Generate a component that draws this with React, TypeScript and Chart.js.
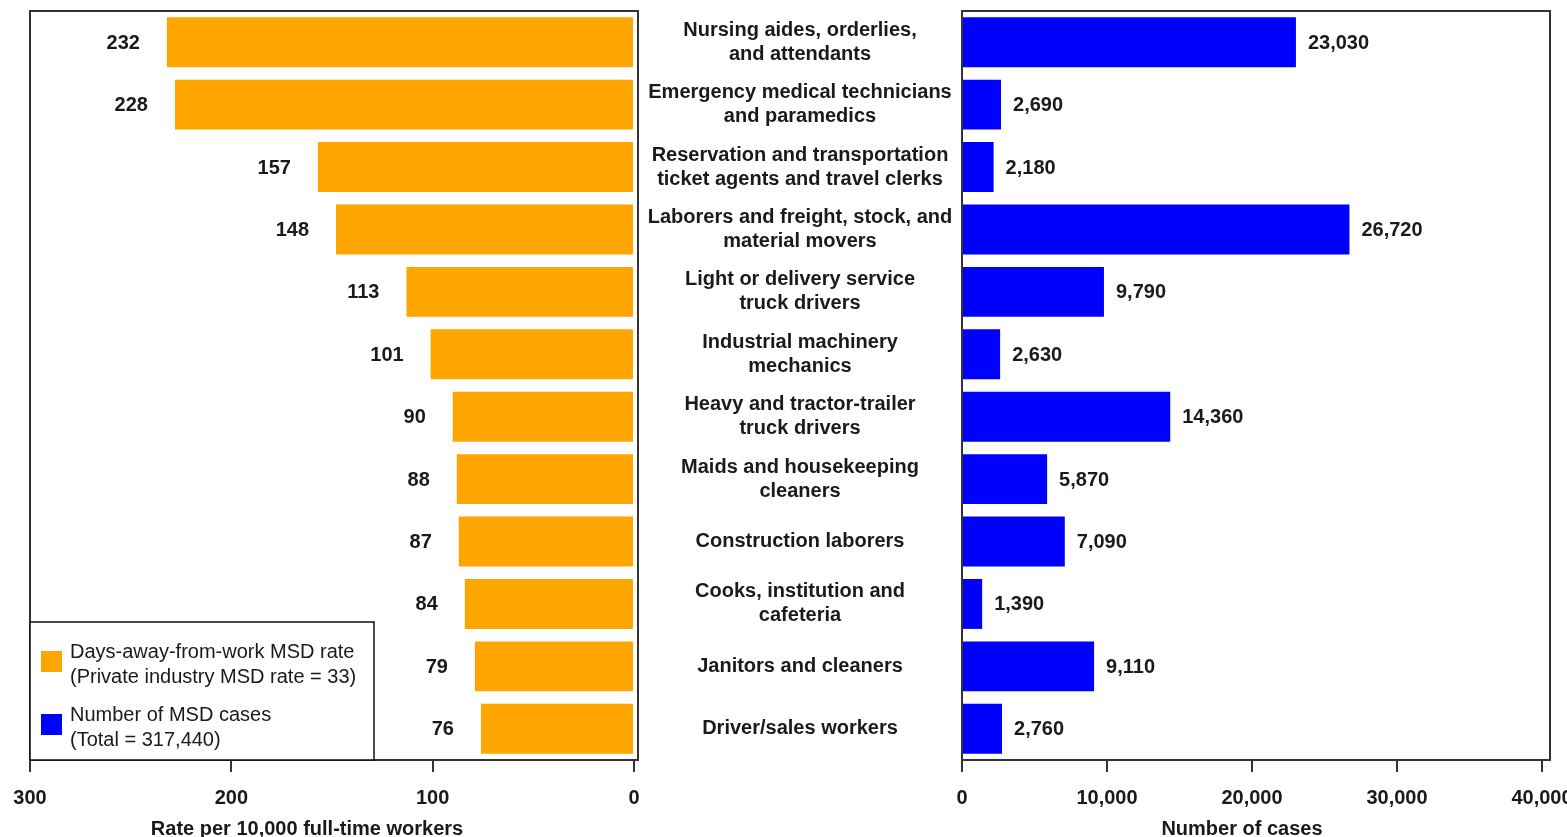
import { useEffect, useRef } from "react";
import { Chart, registerables } from "chart.js";

Chart.register(...registerables);

const categories: string[][] = [
  ["Nursing aides, orderlies,", "and attendants"],
  ["Emergency medical technicians", "and paramedics"],
  ["Reservation and transportation", "ticket agents and travel clerks"],
  ["Laborers and freight, stock, and", "material movers"],
  ["Light or delivery service", "truck drivers"],
  ["Industrial machinery", "mechanics"],
  ["Heavy and tractor-trailer", "truck drivers"],
  ["Maids and housekeeping", "cleaners"],
  ["Construction laborers"],
  ["Cooks, institution and", "cafeteria"],
  ["Janitors and cleaners"],
  ["Driver/sales workers"],
];
const rateValues = [232, 228, 157, 148, 113, 101, 90, 88, 87, 84, 79, 76];
const caseValues = [23030, 2690, 2180, 26720, 9790, 2630, 14360, 5870, 7090, 1390, 9110, 2760];
const rateTicks = [300, 200, 100, 0];
const caseTicks = [0, 10000, 20000, 30000, 40000];
const legendLabels: string[][] = [
  ["Days-away-from-work MSD rate", "(Private industry MSD rate = 33)"],
  ["Number of MSD cases", "(Total = 317,440)"],
];
const rateTitle = "Rate per 10,000 full-time workers";
const caseTitle = "Number of cases";

const ORANGE = "#FFA500";
const BLUE = "#0000FF";
const TEXT = "#1a1a1a";
const FAMILY = '"Liberation Sans", Arial, sans-serif';
const BOLD = `700 20px ${FAMILY}`;
const REG = `400 20px ${FAMILY}`;

// page offset of the left canvas (it starts off-screen so tick labels fit)
const LEFT_SHIFT = 20;

const fmt = (v: number) => Number(v).toLocaleString("en-US");

const framePlugin = {
  id: "frame",
  afterDatasetsDraw(chart: any) {
    const { ctx, chartArea: a } = chart;
    ctx.save();
    ctx.strokeStyle = "#333";
    ctx.lineWidth = 2;
    ctx.strokeRect(a.left, a.top, a.right - a.left, a.bottom - a.top);
    ctx.restore();
  },
};

const makeValueLabels = (side: "left" | "right") => ({
  id: "valueLabels" + side,
  afterDatasetsDraw(chart: any) {
    const { ctx } = chart;
    const meta = chart.getDatasetMeta(0);
    const data = chart.data.datasets[0].data as number[];
    ctx.save();
    ctx.font = BOLD;
    ctx.fillStyle = TEXT;
    ctx.textBaseline = "middle";
    meta.data.forEach((el: any, i: number) => {
      if (side === "left") {
        ctx.textAlign = "right";
        ctx.fillText(fmt(data[i]), el.x - 27, el.y + 1);
      } else {
        ctx.textAlign = "left";
        ctx.fillText(fmt(data[i]), el.x + 12, el.y + 1);
      }
    });
    ctx.restore();
  },
});

const legendPlugin = {
  id: "legendBox",
  afterDraw(chart: any) {
    const { ctx, chartArea: a } = chart;
    const x0 = a.left;
    const y0 = 622;
    const x1 = 374 + LEFT_SHIFT;
    const y1 = a.bottom;
    ctx.save();
    ctx.fillStyle = "#fff";
    ctx.fillRect(x0, y0, x1 - x0, y1 - y0);
    ctx.strokeStyle = "#111";
    ctx.lineWidth = 1.5;
    ctx.strokeRect(x0, y0, x1 - x0, y1 - y0);
    const colors = [ORANGE, BLUE];
    const rows = [652, 715];
    legendLabels.forEach((lines, k) => {
      ctx.fillStyle = colors[k];
      ctx.fillRect(41 + LEFT_SHIFT, rows[k] - 1, 21, 21);
      ctx.fillStyle = TEXT;
      ctx.font = REG;
      ctx.textAlign = "left";
      ctx.textBaseline = "middle";
      lines.forEach((t, j) => ctx.fillText(t, 70 + LEFT_SHIFT, rows[k] + j * 25));
    });
    ctx.restore();
  },
};

const makeTitle = (text: string, x: number) => ({
  id: "axisTitle",
  afterDraw(chart: any) {
    const { ctx } = chart;
    ctx.save();
    ctx.font = BOLD;
    ctx.fillStyle = TEXT;
    ctx.textAlign = "center";
    ctx.textBaseline = "middle";
    ctx.fillText(text, x, 829);
    ctx.restore();
  },
});

const middleLabels = {
  id: "middleLabels",
  afterDraw(chart: any) {
    const { ctx, chartArea: a } = chart;
    const y = chart.scales.y;
    ctx.save();
    ctx.font = BOLD;
    ctx.fillStyle = TEXT;
    ctx.textAlign = "center";
    ctx.textBaseline = "middle";
    const cx = a.left - 162;
    categories.forEach((lines, i) => {
      const cy = y.getPixelForValue(i);
      lines.forEach((t, j) => {
        ctx.fillText(t, cx, cy + (j - (lines.length - 1) / 2) * 24);
      });
    });
    ctx.restore();
  },
};

const xScaleBase = (ticks: number[]) => ({
  afterBuildTicks: (s: any) => {
    s.ticks = ticks.map((v) => ({ value: v }));
  },
  afterFit: (s: any) => {
    s.height = 77;
  },
  grid: { drawOnChartArea: false, drawTicks: true, tickLength: 12, color: "#333", lineWidth: 2 },
  border: { display: false },
  ticks: {
    padding: 14,
    autoSkip: false,
    maxRotation: 0,
    color: TEXT,
    font: { family: FAMILY, size: 20, weight: "bold" as const },
    callback: (v: any) => fmt(Number(v)),
  },
});

export default function App() {
  const leftRef = useRef<HTMLCanvasElement>(null);
  const rightRef = useRef<HTMLCanvasElement>(null);

  useEffect(() => {
    const labels = categories.map((c) => c.join(" "));
    const left = new Chart(leftRef.current as HTMLCanvasElement, {
      type: "bar",
      data: {
        labels,
        datasets: [
          {
            data: rateValues,
            backgroundColor: ORANGE,
            borderWidth: 0,
            categoryPercentage: 0.8,
            barPercentage: 1,
          },
        ],
      },
      options: {
        indexAxis: "y",
        responsive: false,
        animation: false,
        devicePixelRatio: 1,
        layout: { padding: { left: 30 + LEFT_SHIFT, right: 22, top: 11, bottom: 0 } },
        plugins: { legend: { display: false }, tooltip: { enabled: false } },
        scales: {
          x: { type: "linear", reverse: true, min: -2, max: 300, ...xScaleBase(rateTicks) } as any,
          y: { display: false },
        },
      },
      plugins: [framePlugin, makeValueLabels("left"), legendPlugin, makeTitle(rateTitle, 307 + LEFT_SHIFT)],
    });

    const right = new Chart(rightRef.current as HTMLCanvasElement, {
      type: "bar",
      data: {
        labels,
        datasets: [
          {
            data: caseValues,
            backgroundColor: BLUE,
            borderWidth: 0,
            categoryPercentage: 0.8,
            barPercentage: 1,
          },
        ],
      },
      options: {
        indexAxis: "y",
        responsive: false,
        animation: false,
        devicePixelRatio: 1,
        layout: { padding: { left: 322, right: 50, top: 11, bottom: 0 } },
        plugins: { legend: { display: false }, tooltip: { enabled: false } },
        scales: {
          x: { type: "linear", min: 0, max: 40552, ...xScaleBase(caseTicks) } as any,
          y: { display: false },
        },
      },
      plugins: [framePlugin, makeValueLabels("right"), middleLabels, makeTitle(caseTitle, 602)],
    });

    return () => {
      left.destroy();
      right.destroy();
    };
  }, []);

  return (
    <div
      style={{
        position: "absolute",
        left: 0,
        top: 0,
        width: 1567,
        height: 837,
        overflow: "hidden",
        background: "#fff",
      }}
    >
      <canvas
        ref={leftRef}
        width={680}
        height={837}
        style={{ position: "absolute", left: -LEFT_SHIFT, top: 0, width: 680, height: 837 }}
      />
      <canvas
        ref={rightRef}
        width={960}
        height={837}
        style={{ position: "absolute", left: 640, top: 0, width: 960, height: 837 }}
      />
    </div>
  );
}
